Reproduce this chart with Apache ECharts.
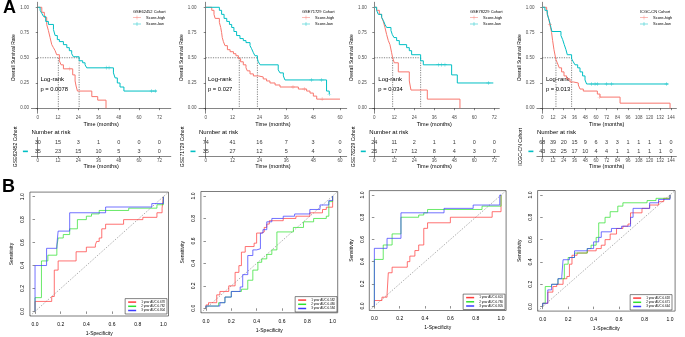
<!DOCTYPE html>
<html>
<head>
<meta charset="utf-8">
<script src="https://cdn.jsdelivr.net/npm/echarts@6/dist/echarts.min.js"></script>
<style>
  html, body { margin: 0; padding: 0; background: #fff; }
  #chart { width: 685px; height: 337px; }
</style>
</head>
<body>
<div id="chart"></div>
<script>
// ---------- data ----------
const cohorts = ['GSE62452 Cohort', 'GSE71729 Cohort', 'GSE78229 Cohort', 'ICGC-CN Cohort'];
const pValues = ['p = 0.0078', 'p = 0.027', 'p = 0.034', 'p = 0.013'];

// Kaplan-Meier step points [month, survival]
const km1High = [[0,1],[2.4,0.95],[3.9,0.90],[5.3,0.83],[6.3,0.77],[7.3,0.70],[8.3,0.63],[9.3,0.60],[10.3,0.57],[11.2,0.53],[12.8,0.47],[13.8,0.43],[15.2,0.39],[20.7,0.33],[22.1,0.27],[22.7,0.22],[23.5,0.17],[32,0.115],[35.5,0.08],[40.4,0]];
const km1Low = [[0,1],[1.4,0.97],[2.4,0.94],[3.4,0.91],[4.7,0.86],[6.3,0.83],[9.3,0.78],[10.3,0.72],[11.6,0.68],[12.8,0.66],[15.2,0.63],[17.2,0.60],[18.7,0.57],[20.1,0.54],[21.1,0.51],[24.5,0.47],[26.6,0.45],[28,0.43],[29,0.40],[44.8,0.35],[45.8,0.30],[47.1,0.25],[48.7,0.21],[51,0.17],[70.4,0.17]];
const km2High = [[0,1],[2.7,0.97],[3.7,0.93],[4.2,0.89],[6.1,0.85],[6.7,0.80],[7.1,0.75],[7.4,0.70],[7.9,0.66],[8.6,0.62],[9.7,0.58],[10.9,0.56],[12.4,0.54],[13.5,0.52],[14.6,0.49],[15.6,0.46],[16.8,0.43],[18,0.40],[18.6,0.37],[19.8,0.34],[21.3,0.32],[23.5,0.31],[25.7,0.29],[27.2,0.27],[28.7,0.25],[31,0.23],[33.2,0.21],[41.4,0.19],[45.1,0.17],[46.6,0.15],[48.1,0.12],[49.6,0.09],[60,0.09]];
const km2Low = [[0,1],[6.1,0.97],[7.1,0.93],[8.2,0.89],[9.4,0.86],[10.6,0.83],[11.6,0.80],[12.6,0.76],[13.8,0.72],[15.3,0.69],[16.8,0.67],[18,0.65],[19.8,0.62],[20.5,0.59],[21.3,0.55],[22,0.52],[23.1,0.49],[23.5,0.46],[24.3,0.43],[32.4,0.38],[33.2,0.35],[34.7,0.32],[35.4,0.28],[54,0.17],[55.2,0.14]];
const km3High = [[0,1],[1.4,0.97],[3,0.93],[4.4,0.90],[5.4,0.86],[6.4,0.80],[7.4,0.73],[8.4,0.67],[9.4,0.63],[10.4,0.55],[11,0.50],[12,0.45],[14.4,0.36],[21,0.27],[22,0.18],[31.8,0.09],[51.4,0]];
const km3Low = [[0,1],[1.4,0.97],[2.4,0.93],[4.4,0.90],[5.4,0.87],[6.4,0.83],[7.4,0.80],[10,0.77],[10.8,0.73],[11.8,0.70],[13.4,0.67],[15,0.63],[19.4,0.60],[21,0.57],[22.4,0.53],[27.8,0.47],[29.4,0.43],[46.4,0.33],[49.8,0.25],[71.4,0.25]];
const km4High = [[0,1],[4.9,0.97],[6.7,0.90],[8.6,0.83],[10.4,0.75],[11.6,0.67],[13.1,0.58],[15.3,0.48],[16.8,0.45],[19,0.40],[21.6,0.36],[24.3,0.32],[27.2,0.29],[31,0.26],[34.7,0.25],[40.3,0.23],[42.2,0.19],[45.9,0.17],[61.6,0.14],[64.6,0.11],[87,0.05],[142.9,0]];
const km4Low = [[0,1],[3,0.97],[5.6,0.93],[7.8,0.87],[9.7,0.80],[10.8,0.76],[20.9,0.72],[22.8,0.68],[24.6,0.63],[26.5,0.58],[28,0.53],[32.8,0.49],[34.7,0.46],[36.6,0.43],[39.6,0.40],[42.2,0.36],[45.1,0.32],[47.8,0.28],[49.6,0.24],[141,0.24]];

// censoring marks [month, survival]
const cens1High = [[19,0.39]];
const cens1Low = [[40.5,0.40],[42.2,0.40],[67.5,0.17],[69.5,0.17]];
const cens2High = [[39,0.21],[44,0.19],[52,0.09]];
const cens2Low = [[47.3,0.28],[51.8,0.28],[55.2,0.14]];
const cens3High = [];
const cens3Low = [[38.4,0.43],[40.4,0.43],[42.4,0.43],[68.4,0.25]];
const cens4High = [[8.6,0.83],[64,0.11]];
const cens4Low = [[55,0.24],[59,0.24],[61.6,0.24],[72,0.24],[77.6,0.24],[139,0.24]];

// median survival [high, low]
const med1 = [12.2, 24.5];
const med2 = [15.0, 23.1];
const med3 = [11.0, 27.8];
const med4 = [15.3, 32.8];

// tick labels / number at risk
const ticks1 = [0, 12, 24, 36, 48, 60, 72];
const ticks2 = [0, 12, 24, 36, 48, 60];
const ticks3 = [0, 12, 24, 36, 48, 60, 72];
const ticks4 = [0, 12, 24, 36, 48, 60, 72, 84, 96, 108, 120, 132, 144];
const risk1High = [30, 15, 3, 1, 0, 0, 0];
const risk1Low = [35, 23, 15, 10, 5, 3, 0];
const risk2High = [74, 41, 16, 7, 3, 0];
const risk2Low = [35, 27, 12, 5, 4, 0];
const risk3High = [24, 11, 2, 1, 1, 0, 0];
const risk3Low = [25, 17, 12, 8, 4, 3, 0];
const risk4High = [68, 39, 20, 15, 9, 6, 3, 3, 1, 1, 1, 1, 0];
const risk4Low = [43, 32, 25, 17, 10, 4, 4, 1, 1, 1, 1, 1, 0];
const kmYTicks = [0, 0.25, 0.5, 0.75, 1];

// ROC staircase points [1-specificity, sensitivity]
const rocNames = [
  ['1 year AUC:0.678', '2 year AUC:0.782', '3 year AUC:0.804'],
  ['1 year AUC:0.582', '2 year AUC:0.480', '3 year AUC:0.584'],
  ['1 year AUC:0.601', '2 year AUC:0.780', '3 year AUC:0.805'],
  ['1 year AUC:0.618', '2 year AUC:0.671', '3 year AUC:0.644']
];
const roc1Y1 = [[0,0],[0.13,0.087],[0.15,0.13],[0.18,0.36],[0.32,0.44],[0.40,0.52],[0.47,0.56],[0.48,0.58],[0.50,0.61],[0.52,0.64],[0.55,0.72],[0.69,0.76],[0.84,0.80],[0.95,0.82],[0.99,0.86],[1,0.90],[1,1]];
const roc1Y2 = [[0,0],[0.05,0.12],[0.10,0.44],[0.17,0.49],[0.18,0.56],[0.22,0.64],[0.27,0.67],[0.33,0.72],[0.40,0.80],[0.44,0.83],[0.50,0.85],[0.73,0.88],[0.95,0.90],[1,0.93],[1,1]];
const roc1Y3 = [[0,0],[0.09,0.40],[0.17,0.55],[0.18,0.58],[0.27,0.70],[0.55,0.86],[0.91,0.91],[1,0.94],[1,1]];
const roc2Y1 = [[0,0],[0.02,0.03],[0.085,0.05],[0.11,0.12],[0.18,0.15],[0.23,0.20],[0.26,0.32],[0.28,0.38],[0.31,0.50],[0.38,0.55],[0.40,0.58],[0.44,0.67],[0.46,0.68],[0.48,0.72],[0.50,0.75],[0.61,0.78],[0.71,0.80],[0.82,0.82],[0.92,0.85],[0.95,0.88],[1,0.90],[1,1]];
const roc2Y2 = [[0,0],[0.10,0.02],[0.15,0.05],[0.20,0.10],[0.28,0.15],[0.33,0.17],[0.37,0.25],[0.41,0.34],[0.44,0.41],[0.48,0.44],[0.52,0.48],[0.56,0.52],[0.69,0.68],[0.77,0.72],[0.85,0.77],[0.95,0.80],[0.97,0.82],[1,0.95],[1,1]];
const roc2Y3 = [[0,0],[0.03,0.02],[0.11,0.02],[0.15,0.05],[0.20,0.10],[0.27,0.15],[0.29,0.19],[0.33,0.30],[0.37,0.47],[0.40,0.52],[0.43,0.53],[0.45,0.67],[0.48,0.70],[0.52,0.77],[0.61,0.80],[0.70,0.82],[0.82,0.84],[0.90,0.88],[0.97,0.92],[1,0.96],[1,1]];
const roc3Y1 = [[0,0],[0.06,0.05],[0.10,0.08],[0.11,0.10],[0.14,0.30],[0.26,0.35],[0.28,0.40],[0.32,0.45],[0.35,0.50],[0.39,0.55],[0.42,0.70],[0.60,0.75],[0.93,0.80],[1,0.85],[1,1]];
const roc3Y2 = [[0,0],[0.07,0.42],[0.14,0.55],[0.21,0.65],[0.35,0.80],[0.39,0.82],[0.42,0.84],[0.85,0.87],[1,0.90],[1,1]];
const roc3Y3 = [[0,0],[0.10,0.52],[0.21,0.61],[0.55,0.84],[0.78,0.88],[0.99,0.91],[1,1]];
const roc4Y1 = [[0,0],[0.04,0.03],[0.08,0.13],[0.11,0.18],[0.16,0.20],[0.19,0.25],[0.21,0.27],[0.23,0.38],[0.27,0.46],[0.35,0.48],[0.42,0.50],[0.46,0.52],[0.49,0.55],[0.53,0.60],[0.58,0.65],[0.63,0.70],[0.67,0.72],[0.69,0.74],[0.78,0.84],[0.84,0.88],[0.91,0.91],[0.95,0.94],[1,0.97],[1,1]];
const roc4Y2 = [[0,0],[0.02,0.03],[0.07,0.18],[0.12,0.20],[0.17,0.25],[0.20,0.38],[0.25,0.44],[0.35,0.48],[0.38,0.52],[0.42,0.55],[0.44,0.62],[0.49,0.75],[0.53,0.80],[0.59,0.85],[0.63,0.90],[0.82,0.93],[0.89,0.95],[1,0.97],[1,1]];
const roc4Y3 = [[0,0],[0.04,0.03],[0.07,0.15],[0.12,0.20],[0.15,0.25],[0.16,0.27],[0.21,0.42],[0.25,0.44],[0.35,0.50],[0.40,0.52],[0.44,0.58],[0.46,0.62],[0.54,0.67],[0.62,0.70],[0.69,0.72],[0.71,0.80],[0.84,0.88],[0.91,0.93],[1,0.96],[1,1]];
const rocTicks = [0, 0.2, 0.4, 0.6, 0.8, 1];

// ---------- layout ----------
const FONT = 'Liberation Sans';
const C_HIGH = '#F8766D', C_LOW = '#00BFC4';
const ROC_COLORS = ['#ff3b3b', '#2ee02e', '#3b3bff'];
const PLUS = 'path://M0,4.5h10v1h-10z M4.5,0h1v10h-1z';

const kmPanels = [
  { high: km1High, low: km1Low, cH: cens1High, cL: cens1Low, med: med1, ticks: ticks1, rH: risk1High, rL: risk1Low },
  { high: km2High, low: km2Low, cH: cens2High, cL: cens2Low, med: med2, ticks: ticks2, rH: risk2High, rL: risk2Low },
  { high: km3High, low: km3Low, cH: cens3High, cL: cens3Low, med: med3, ticks: ticks3, rH: risk3High, rL: risk3Low },
  { high: km4High, low: km4Low, cH: cens4High, cL: cens4Low, med: med4, ticks: ticks4, rH: risk4High, rL: risk4Low }
];
const kmGeo = [
  { left: 31.4, width: 139.4, min: -3.75, max: 78.75, legend: 133 },
  { left: 199, width: 147.7, min: -3, max: 63, legend: 302 },
  { left: 369.3, width: 130, min: -3, max: 75, legend: 470 },
  { left: 536.9, width: 139.5, min: -6, max: 150, legend: 640 }
];
const rocPanels = [roc1Y1, roc1Y2, roc1Y3, roc2Y1, roc2Y2, roc2Y3, roc3Y1, roc3Y2, roc3Y3, roc4Y1, roc4Y2, roc4Y3];
const rocGeo = [
  { left: 29.9, top: 192.1, width: 138.6, height: 124.2, lr: 518, lb: 23 },
  { left: 200.9, top: 191.5, width: 136.8, height: 121.3, lr: 348, lb: 25 },
  { left: 369.3, top: 190.6, width: 136.8, height: 119.9, lr: 180, lb: 27.5 },
  { left: 537.6, top: 190.5, width: 137.5, height: 120.6, lr: 13, lb: 27 }
];

const grids = [], xAxes = [], yAxes = [], series = [], legends = [], graphics = [];

function addGrid(g, x, y) {
  grids.push(g);
  const i = grids.length - 1;
  xAxes.push(Object.assign({ gridIndex: i, splitLine: { show: false } }, x));
  yAxes.push(Object.assign({ gridIndex: i, splitLine: { show: false } }, y));
  return i;
}
function text(t, x, y, size, opts) {
  graphics.push({
    type: 'text', x: x, y: y,
    style: Object.assign({ text: t, fontSize: size, fontFamily: FONT, fill: '#000', align: 'left', verticalAlign: 'middle' }, opts || {})
  });
}

const kmAxisLine = { show: true, lineStyle: { color: '#333', width: 0.6 } };
const kmTick = (vals) => ({ show: true, length: 2, customValues: vals, lineStyle: { color: '#333', width: 0.6 } });

kmPanels.forEach((p, i) => {
  const g = kmGeo[i];
  // survival plot
  const gi = addGrid(
    { left: g.left, top: 2.25, width: g.width, height: 111 },
    { type: 'value', min: g.min, max: g.max, axisLine: kmAxisLine, axisTick: kmTick(p.ticks),
      axisLabel: { customValues: p.ticks, fontSize: 4.5, color: '#4d4d4d', margin: 2, fontFamily: FONT },
      name: 'Time (months)', nameLocation: 'middle', nameGap: 7, nameTextStyle: { fontSize: 5.5, fontFamily: FONT, color: '#000' } },
    { type: 'value', min: -0.05, max: 1.05, axisLine: kmAxisLine, axisTick: kmTick(kmYTicks),
      axisLabel: { customValues: kmYTicks, formatter: v => v.toFixed(2), fontSize: 4.5, color: '#4d4d4d', margin: 2.5, fontFamily: FONT },
      name: 'Overall Survival Rate', nameLocation: 'middle', nameGap: 13.5, nameTextStyle: { fontSize: 5, fontFamily: FONT, color: '#000' } }
  );
  const ax = { xAxisIndex: gi, yAxisIndex: gi };
  // median guide lines
  const medLow = p.med[1], medHigh = p.med[0];
  [[[0, 0.5], [Math.max(medLow, medHigh), 0.5]], [[medHigh, 0.5], [medHigh, 0]], [[medLow, 0.5], [medLow, 0]]].forEach(seg => {
    series.push(Object.assign({ type: 'line', data: seg, symbol: 'none', silent: true, z: 1,
      lineStyle: { color: '#333', width: 0.6, type: [1.2, 1.2] } }, ax));
  });
  series.push(Object.assign({ type: 'line', name: 'Score-high', data: p.high, step: 'end', symbol: 'none',
    lineStyle: { color: C_HIGH, width: 1 }, itemStyle: { color: C_HIGH }, z: 3 }, ax));
  series.push(Object.assign({ type: 'line', name: 'Score-low', data: p.low, step: 'end', symbol: 'none',
    lineStyle: { color: C_LOW, width: 1 }, itemStyle: { color: C_LOW }, z: 3 }, ax));
  series.push(Object.assign({ type: 'scatter', name: 'censor-high', data: p.cH, symbol: PLUS, symbolSize: 4, itemStyle: { color: C_HIGH }, z: 4 }, ax));
  series.push(Object.assign({ type: 'scatter', name: 'censor-low', data: p.cL, symbol: PLUS, symbolSize: 4, itemStyle: { color: C_LOW }, z: 4 }, ax));

  legends.push({
    data: ['Score-high', 'Score-low'], orient: 'vertical', left: g.legend, top: 15.5,
    icon: 'path://M0,4.5h20v1h-20z M9.5,0h1v10h-1z', itemWidth: 8, itemHeight: 4, itemGap: 2.5, itemTextGap: 3,
    textStyle: { fontSize: 4, fontFamily: FONT, color: '#000' }, selectedMode: false, padding: 0
  });
  text(cohorts[i], g.legend, 12, 4);
  text('Log-rank', g.left + 9, 79, 6);
  text(pValues[i], g.left + 9, 89, 5.8);
  text('Number at risk', g.left, 132, 6);
});

kmPanels.forEach((p, i) => {
  const g = kmGeo[i];
  // number-at-risk table
  const gi = addGrid(
    { left: g.left, top: 137.5, width: g.width, height: 18.5 },
    { type: 'value', min: g.min, max: g.max, axisLine: kmAxisLine, axisTick: kmTick(p.ticks),
      axisLabel: { customValues: p.ticks, fontSize: 4.5, color: '#4d4d4d', margin: 2, fontFamily: FONT },
      name: 'Time (months)', nameLocation: 'middle', nameGap: 6.5, nameTextStyle: { fontSize: 5.5, fontFamily: FONT, color: '#000' } },
    { type: 'category', data: ['low', 'high'], axisLine: kmAxisLine, axisTick: { show: false },
      axisLabel: { margin: 3.5, formatter: v => v === 'high' ? '{h|}' : '{l|}',
        rich: { h: { width: 5, height: 1.6, backgroundColor: C_HIGH }, l: { width: 5, height: 1.6, backgroundColor: C_LOW } } },
      name: cohorts[i], nameLocation: 'middle', nameGap: 13.5, nameTextStyle: { fontSize: 5, fontFamily: FONT, color: '#000' } }
  );
  const rows = [['high', p.rH], ['low', p.rL]];
  rows.forEach(([cat, vals]) => {
    series.push({ type: 'scatter', xAxisIndex: gi, yAxisIndex: gi, symbolSize: 1, silent: true,
      itemStyle: { color: 'rgba(0,0,0,0)' },
      data: p.ticks.map((t, k) => [t, cat, vals[k]]),
      label: { show: true, position: 'inside', formatter: d => String(d.value[2]), fontSize: 5.5, fontFamily: FONT, color: '#000' } });
  });
});

rocGeo.forEach((g, i) => {
  const gi = addGrid(
    { left: g.left, top: g.top, width: g.width, height: g.height, show: true, borderColor: '#444', borderWidth: 0.7 },
    { type: 'value', min: -0.04, max: 1.04, axisLine: { show: false },
      axisTick: { show: true, length: 2.5, customValues: rocTicks, lineStyle: { color: '#444', width: 0.6 } },
      axisLabel: { customValues: rocTicks, formatter: v => v.toFixed(1), fontSize: 5, margin: 6, color: '#000', fontFamily: FONT },
      name: '1-Specificity', nameLocation: 'middle', nameGap: 15, nameTextStyle: { fontSize: 5, fontFamily: FONT, color: '#000' } },
    { type: 'value', min: -0.04, max: 1.04, axisLine: { show: false },
      axisTick: { show: true, length: 2.5, customValues: rocTicks, lineStyle: { color: '#444', width: 0.6 } },
      axisLabel: { customValues: rocTicks, formatter: v => v.toFixed(1), fontSize: 5, margin: 4.5, rotate: 90, color: '#000', fontFamily: FONT },
      name: 'Sensitivity', nameLocation: 'middle', nameGap: 15.5, nameTextStyle: { fontSize: 5, fontFamily: FONT, color: '#000' } }
  );
  series.push({ type: 'line', xAxisIndex: gi, yAxisIndex: gi, data: [[-0.04, -0.04], [1.04, 1.04]], symbol: 'none', silent: true,
    lineStyle: { color: '#777', width: 0.6, type: [1.5, 1.5] }, z: 1 });
  for (let k = 0; k < 3; k++) {
    series.push({ type: 'line', name: rocNames[i][k], xAxisIndex: gi, yAxisIndex: gi, data: rocPanels[i * 3 + k],
      step: 'start', symbol: 'none', lineStyle: { color: ROC_COLORS[k], width: 0.9, opacity: 0.8 },
      itemStyle: { color: ROC_COLORS[k] }, z: 3 });
  }
  legends.push({
    data: rocNames[i], orient: 'vertical', right: g.lr, bottom: g.lb, icon: 'rect',
    itemWidth: 8, itemHeight: 1.5, itemGap: 1.2, itemTextGap: 3, padding: [2, 2, 2, 3],
    borderColor: '#333', borderWidth: 0.6, backgroundColor: '#fff', selectedMode: false,
    textStyle: { fontSize: 3, fontFamily: FONT, color: '#000' }
  });
});

text('A', 3, 8.5, 18, { fontWeight: 'bold' });
text('B', 2, 187, 18, { fontWeight: 'bold' });

const chart = echarts.init(document.getElementById('chart'), null, { renderer: 'canvas' });
chart.setOption({
  animation: false,
  backgroundColor: '#fff',
  grid: grids,
  xAxis: xAxes,
  yAxis: yAxes,
  legend: legends,
  graphic: graphics,
  series: series
});
</script>
</body>
</html>
